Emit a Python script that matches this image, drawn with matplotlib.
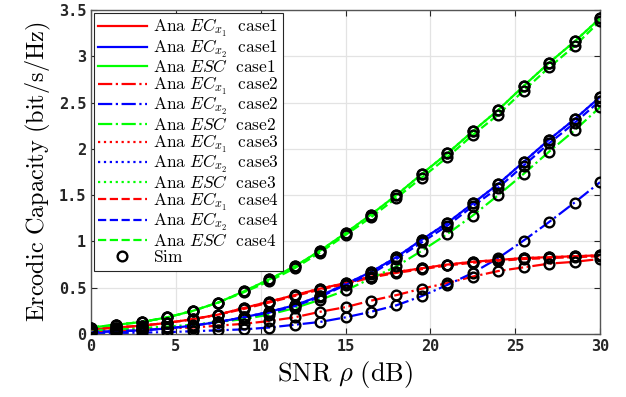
import matplotlib
matplotlib.use("Agg")
import matplotlib.pyplot as plt
from matplotlib.lines import Line2D

plt.rcParams["mathtext.fontset"] = "cm"

# SNR points (dB)
snr = [0, 1.5, 3, 4.5, 6, 7.5, 9, 10.5, 12, 13.5, 15,
       16.5, 18, 19.5, 21, 22.5, 24, 25.5, 27, 28.5, 30]

# case1
ec1_c1 = [0.05, 0.07, 0.09, 0.12, 0.16, 0.21, 0.28, 0.35, 0.42, 0.49, 0.55,
          0.62, 0.67, 0.71, 0.75, 0.78, 0.80, 0.82, 0.83, 0.84, 0.85]
ec2_c1 = [0.02, 0.03, 0.04, 0.06, 0.09, 0.13, 0.18, 0.24, 0.31, 0.41, 0.54,
          0.67, 0.83, 1.02, 1.20, 1.41, 1.62, 1.86, 2.10, 2.32, 2.56]
esc_c1 = [0.07, 0.10, 0.13, 0.18, 0.25, 0.34, 0.46, 0.59, 0.73, 0.90, 1.09,
          1.29, 1.50, 1.73, 1.95, 2.19, 2.42, 2.68, 2.93, 3.16, 3.41]

# case2
ec1_c2 = [0.03, 0.04, 0.05, 0.06, 0.07, 0.09, 0.11, 0.14, 0.18, 0.24, 0.29,
          0.36, 0.42, 0.49, 0.55, 0.62, 0.68, 0.72, 0.76, 0.78, 0.81]
ec2_c2 = [0.01, 0.01, 0.015, 0.02, 0.03, 0.04, 0.05, 0.07, 0.10, 0.13, 0.18,
          0.24, 0.31, 0.41, 0.53, 0.66, 0.82, 1.01, 1.21, 1.42, 1.64]
esc_c2 = [0.04, 0.05, 0.065, 0.08, 0.10, 0.13, 0.16, 0.21, 0.28, 0.37, 0.47,
          0.60, 0.73, 0.90, 1.08, 1.28, 1.50, 1.73, 1.97, 2.20, 2.45]

# case3 (lies on case1)
ec1_c3 = ec1_c1
ec2_c3 = ec2_c1
esc_c3 = esc_c1

# case4
ec1_c4 = [0.05, 0.07, 0.09, 0.12, 0.16, 0.21, 0.27, 0.34, 0.41, 0.48, 0.54,
          0.61, 0.66, 0.70, 0.74, 0.77, 0.79, 0.81, 0.82, 0.83, 0.84]
ec2_c4 = [0.02, 0.03, 0.04, 0.06, 0.09, 0.13, 0.18, 0.23, 0.30, 0.40, 0.53,
          0.65, 0.81, 0.99, 1.17, 1.38, 1.58, 1.82, 2.06, 2.28, 2.52]
esc_c4 = [0.07, 0.10, 0.13, 0.18, 0.25, 0.34, 0.45, 0.57, 0.71, 0.88, 1.07,
          1.26, 1.47, 1.69, 1.91, 2.15, 2.37, 2.63, 2.88, 3.11, 3.38]

fig = plt.figure(figsize=(6.26, 3.97), dpi=100)
ax = fig.add_axes([0.1454, 0.1587, 0.8131, 0.8161])

lw = 1.6
cases = [
    ("case1", "-", ec1_c1, ec2_c1, esc_c1),
    ("case2", "-.", ec1_c2, ec2_c2, esc_c2),
    ("case3", ":", ec1_c3, ec2_c3, esc_c3),
    ("case4", "--", ec1_c4, ec2_c4, esc_c4),
]
handles = []
labels = []
for name, ls, a, b, c in cases:
    h1, = ax.plot(snr, a, color="red", ls=ls, lw=lw)
    h2, = ax.plot(snr, b, color="blue", ls=ls, lw=lw)
    h3, = ax.plot(snr, c, color="#00ff00", ls=ls, lw=lw)
    handles += [h1, h2, h3]
    labels += [r"$\mathrm{Ana}\ EC_{x_1}\ \ \mathrm{%s}$" % name,
               r"$\mathrm{Ana}\ EC_{x_2}\ \ \mathrm{%s}$" % name,
               r"$\mathrm{Ana}\ ESC\ \ \mathrm{%s}$" % name]

# simulation markers
for name, ls, a, b, c in cases:
    for s in (a, b, c):
        ax.plot(snr, s, "o", color="black", mfc="none", ms=7, mew=1.7, zorder=5)

handles.append(Line2D([], [], ls="none", marker="o", color="black",
                      mfc="none", ms=7, mew=1.7))
labels.append(r"$\mathrm{Sim}$")

ax.set_xlim(0, 30)
ax.set_ylim(0, 3.5)
ax.set_xticks([0, 5, 10, 15, 20, 25, 30])
ax.set_yticks([0, 0.5, 1, 1.5, 2, 2.5, 3, 3.5])
ax.set_yticklabels(["0", "0.5", "1", "1.5", "2", "2.5", "3", "3.5"])
ax.tick_params(direction="in", top=True, right=True, labelsize=11,
               length=4, width=0.8, colors="#262626")
for t in ax.get_xticklabels() + ax.get_yticklabels():
    t.set_family("DejaVu Sans Mono")
    t.set_weight("bold")
ax.grid(True, color="#e3e3e3", lw=0.9)
ax.set_axisbelow(True)
for sp in ax.spines.values():
    sp.set_color("#555555")
    sp.set_linewidth(1.0)

ax.set_xlabel(r"$\mathrm{SNR}\ \rho\ \mathrm{(dB)}$", fontsize=19, labelpad=4)
ax.set_ylabel(r"$\mathrm{Ercodic\ Capacity\ (bit/s/Hz)}$", fontsize=17.5, labelpad=4)

leg = ax.legend(handles, labels, loc="upper left", fontsize=12.5,
                fancybox=False, edgecolor="#262626", framealpha=1,
                handlelength=2.8, handletextpad=0.35, labelspacing=-0.08,
                borderpad=0.25, borderaxespad=0.15)
leg.get_frame().set_linewidth(0.8)

fig.savefig("out.png", dpi=100)
